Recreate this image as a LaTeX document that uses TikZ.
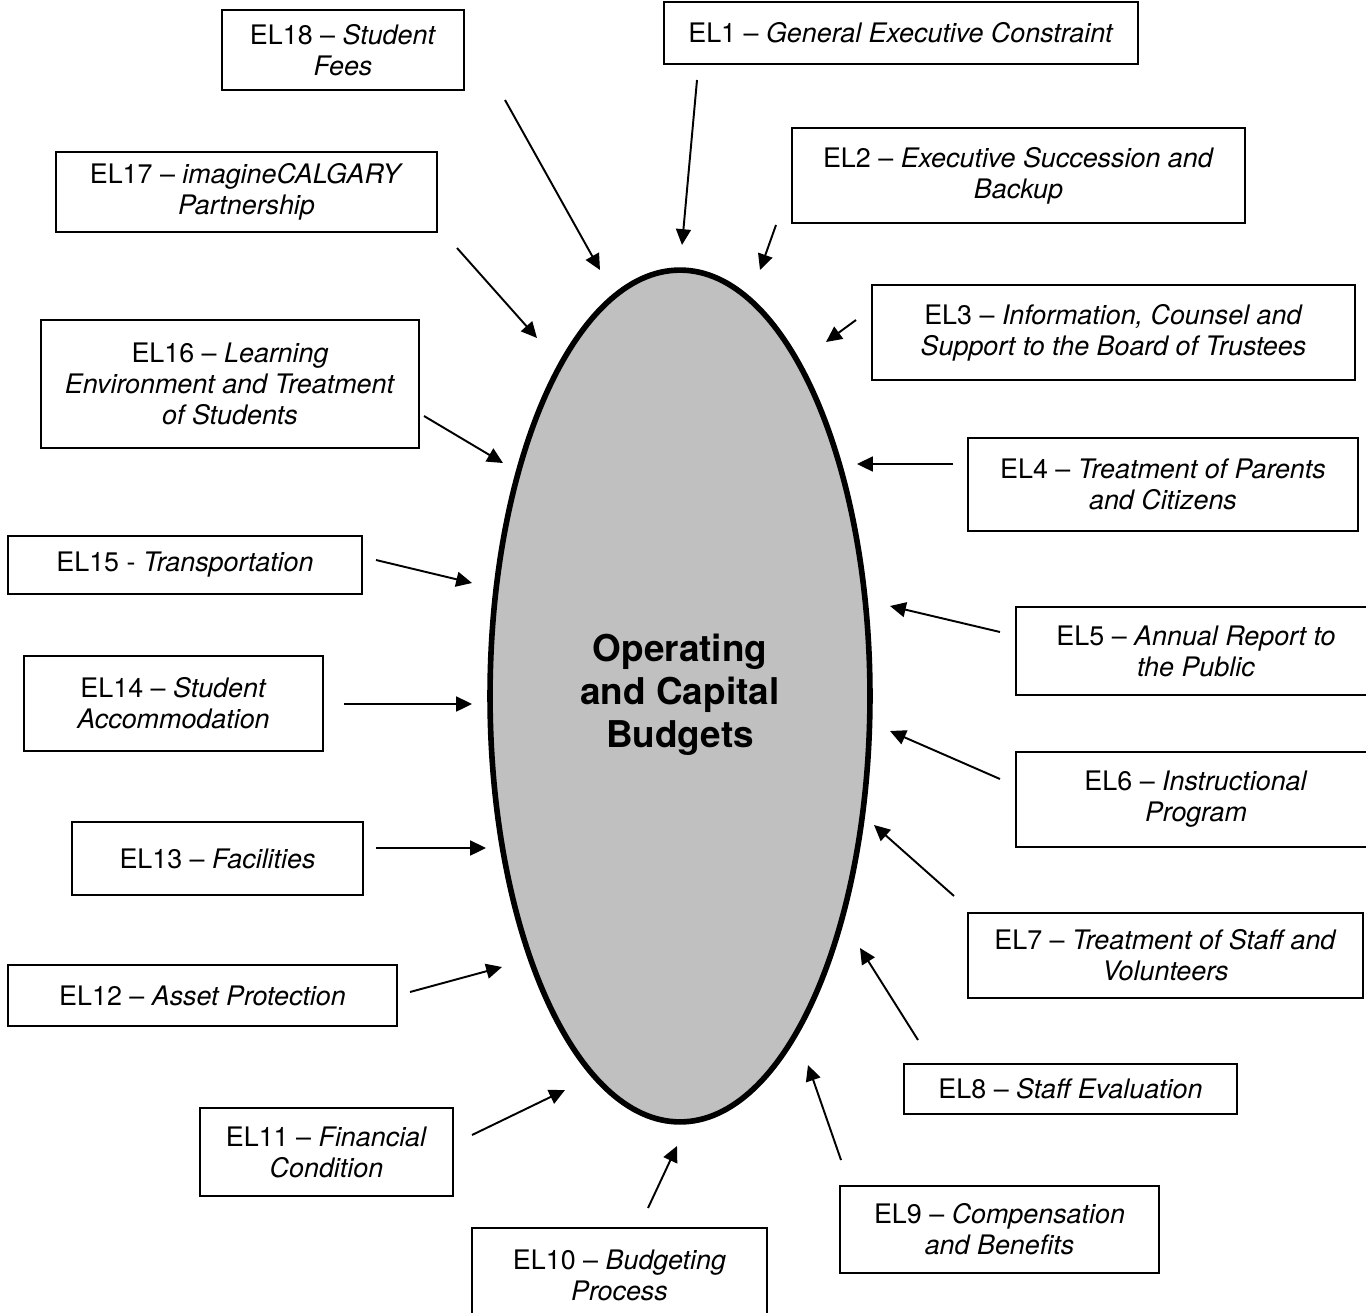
\documentclass[tikz,border=0pt]{standalone}
\usepackage{fontspec}
\setmainfont{TeX Gyre Heros}
\usetikzlibrary{shapes.geometric, arrows.meta}
\definecolor{budgetgray}{RGB}{192,192,192}

\begin{document}
\begin{tikzpicture}[
    x=0.02cm, y=-0.02cm,
    elbox/.style={draw, line width=1.1pt, align=center, inner sep=2pt, font=\fontsize{15.3}{17.6}\selectfont},
    budget/.style={ellipse, draw, line width=3.2pt, fill=budgetgray, align=center, inner sep=0pt, font=\bfseries\fontsize{21}{24.4}\selectfont},
    limit/.style={->, line width=1.1pt},
    >={Triangle[length=9pt, width=8.5pt]}
]
    \clip (0,0) rectangle (1366,1312);

    % Ellipse centrale
    \node[budget, minimum width=7.6cm, minimum height=17.04cm] (budget) at (680,696) {\raisebox{7pt}{\begin{tabular}{@{}c@{}}Operating\\and Capital\\Budgets\end{tabular}}};

    % Cadres a gauche
    \node[elbox, minimum width=4.84cm, minimum height=1.6cm] (el18) at (343,50) {EL18 -- \textit{Student}\\\textit{Fees}};
    \node[elbox, minimum width=7.62cm, minimum height=1.6cm] (el17) at (246.5,192) {EL17 -- \textit{imagineCALGARY}\\\textit{Partnership}};
    \node[elbox, minimum width=7.56cm, minimum height=2.56cm] (el16) at (230,384) {EL16 -- \textit{Learning}\\\textit{Environment and Treatment}\\\textit{of Students}};
    \node[elbox, minimum width=7.08cm, minimum height=1.16cm] (el15) at (185,565) {EL15 - \textit{Transportation}};
    \node[elbox, minimum width=5.98cm, minimum height=1.9cm] (el14) at (173.5,703.5) {EL14 -- \textit{Student}\\\textit{Accommodation}};
    \node[elbox, minimum width=5.82cm, minimum height=1.46cm] (el13) at (217.5,858.5) {EL13 -- \textit{Facilities}};
    \node[elbox, minimum width=7.78cm, minimum height=1.22cm] (el12) at (202.5,995.5) {EL12 -- \textit{Asset Protection}};
    \node[elbox, minimum width=5.06cm, minimum height=1.76cm] (el11) at (326.5,1152) {EL11 -- \textit{Financial}\\\textit{Condition}};
    \node[elbox, minimum width=5.9cm, minimum height=1.88cm] (el10) at (619.5,1275) {EL10 -- \textit{Budgeting}\\\textit{Process}};

    % Cadres a droite
    \node[elbox, minimum width=9.48cm, minimum height=1.24cm] (el1) at (901,33) {EL1 -- \textit{General Executive Constraint}};
    \node[elbox, minimum width=9.06cm, minimum height=1.9cm] (el2) at (1018.5,175.5) {EL2 -- \textit{Executive Succession and}\\\textit{Backup}};
    \node[elbox, minimum width=9.66cm, minimum height=1.9cm] (el3) at (1113.5,332.5) {EL3 -- \textit{Information, Counsel and}\\\textit{Support to the Board of Trustees}};
    \node[elbox, minimum width=7.8cm, minimum height=1.86cm] (el4) at (1163,484.5) {EL4 -- \textit{Treatment of Parents}\\\textit{and Citizens}};
    \node[elbox, minimum width=7.2cm, minimum height=1.76cm] (el5) at (1196,651) {EL5 -- \textit{Annual Report to}\\\textit{the Public}};
    \node[elbox, minimum width=7.2cm, minimum height=1.9cm] (el6) at (1196,799.5) {EL6 -- \textit{Instructional}\\\textit{Program}};
    \node[elbox, minimum width=7.9cm, minimum height=1.7cm] (el7) at (1165.5,955.5) {EL7 -- \textit{Treatment of Staff and}\\\textit{Volunteers}};
    \node[elbox, minimum width=6.66cm, minimum height=1.0cm] (el8) at (1070.5,1089) {EL8 -- \textit{Staff Evaluation}};
    \node[elbox, minimum width=6.38cm, minimum height=1.74cm] (el9) at (999.5,1229.5) {EL9 -- \textit{Compensation}\\\textit{and Benefits}};

    % Points de depart et d'arrivee des fleches
    \coordinate (s18) at (505,100);   \coordinate (t18) at (600,270);
    \coordinate (s1) at (697,80);     \coordinate (t1) at (682,245);
    \coordinate (s2) at (776,225);    \coordinate (t2) at (760,270);
    \coordinate (s17) at (457,248);   \coordinate (t17) at (537,338);
    \coordinate (s3) at (856,320);    \coordinate (t3) at (826,342);
    \coordinate (s16) at (424,416);   \coordinate (t16) at (503,463);
    \coordinate (s4) at (953,464);    \coordinate (t4) at (857,464);
    \coordinate (s15) at (376,560);   \coordinate (t15) at (472,583);
    \coordinate (s5) at (1000,632);   \coordinate (t5) at (890,606);
    \coordinate (s14) at (344,704);   \coordinate (t14) at (472,704);
    \coordinate (s6) at (1000,779);   \coordinate (t6) at (890,731);
    \coordinate (s13) at (376,848);   \coordinate (t13) at (486,848);
    \coordinate (s7) at (954,896);    \coordinate (t7) at (874,825);
    \coordinate (s12) at (410,992);   \coordinate (t12) at (502,967);
    \coordinate (s8) at (918,1040);   \coordinate (t8) at (860,948);
    \coordinate (s11) at (472,1135);  \coordinate (t11) at (565,1090);
    \coordinate (s9) at (841,1160);   \coordinate (t9) at (808,1065);
    \coordinate (s10) at (648,1208);  \coordinate (t10) at (677,1146);

    % Fleches vers l'ellipse
    \draw[limit] (s18) -- (t18);
    \draw[limit] (s1) -- (t1);
    \draw[limit] (s2) -- (t2);
    \draw[limit] (s17) -- (t17);
    \draw[limit] (s3) -- (t3);
    \draw[limit] (s16) -- (t16);
    \draw[limit] (s4) -- (t4);
    \draw[limit] (s15) -- (t15);
    \draw[limit] (s5) -- (t5);
    \draw[limit] (s14) -- (t14);
    \draw[limit] (s6) -- (t6);
    \draw[limit] (s13) -- (t13);
    \draw[limit] (s7) -- (t7);
    \draw[limit] (s12) -- (t12);
    \draw[limit] (s8) -- (t8);
    \draw[limit] (s11) -- (t11);
    \draw[limit] (s9) -- (t9);
    \draw[limit] (s10) -- (t10);

\end{tikzpicture}
\end{document}
